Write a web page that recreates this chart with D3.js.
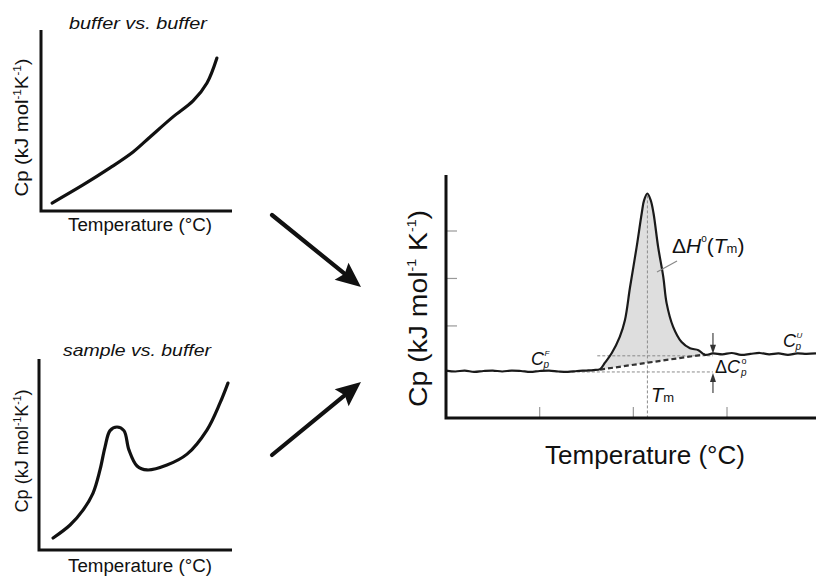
<!DOCTYPE html>
<html><head><meta charset="utf-8">
<script src="https://cdn.jsdelivr.net/npm/d3@7"></script>
<style>
body{margin:0;background:#fff}
svg{display:block}
text{font-family:"Liberation Sans",Arial,Helvetica,sans-serif;fill:#111}
</style>
</head><body>
<svg id="c" width="816" height="579"></svg>
<script>
// ---------- data ----------
// panel 1: buffer vs. buffer (arbitrary units 0-100)
const bufferT  = [5.8, 22.0, 36.1, 48.2, 57.1, 69.1, 79.6, 86.9, 92.1];
const bufferCp = [4.4, 14.4, 23.8, 32.6, 40.9, 52.0, 60.8, 70.7, 84.5];
// panel 2: sample vs. buffer
const sampleT  = [7.3, 16.1, 22.8, 28.0, 31.6, 34.2, 36.8, 40.4, 44.0, 46.6, 50.8, 56.0, 66.3, 76.7, 87.0, 93.8, 97.9];
const sampleCp = [6.3, 13.1, 20.9, 29.8, 41.9, 53.9, 62.5, 64.4, 62.5, 52.4, 44.0, 41.9, 44.5, 50.2, 62.8, 77.0, 87.4];
// main DSC thermogram
const dscT  = [20, 22, 24, 26, 28, 30, 32, 34, 36, 38, 40, 42, 44, 46, 48, 50, 51.5,
               52.9, 53.9, 55.4, 57.1, 58.2, 59.3, 60.7, 61.8, 62.3, 63.0, 63.7, 64.3, 65.3, 66.4, 67.1, 68.5, 70.3, 72.1, 73.9, 75.3,
               77, 79, 81, 83, 85, 87, 89, 91, 93, 95, 97, 99];
const dscCp = [0.06, 0.04, 0.06, 0.03, 0.05, 0.06, 0.04, 0.06, 0.05, 0.03, 0.05, 0.06, 0.04, 0.03, 0.05, 0.06, 0.07,
               0.09, 0.22, 0.43, 0.77, 1.12, 1.82, 2.66, 3.38, 3.65, 3.79, 3.65, 3.38, 2.66, 2.03, 1.48, 0.98, 0.66, 0.53, 0.49, 0.39,
               0.42, 0.40, 0.43, 0.39, 0.41, 0.43, 0.40, 0.42, 0.39, 0.42, 0.41, 0.42];
const xTicks = [40, 60, 80];
const yTicks = [1, 2, 3];
const onsetT = 52.9, endT = 75.3;      // transition limits
const onsetCp = 0.08, endCp = 0.40;     // progress baseline ends
const Tm = 63.0;
const cpF = 0.03, cpU = 0.37;           // folded / unfolded baselines
const dCpX = 77;                        // position of delta Cp arrows

const svg = d3.select("#c");
const ink = "#111";

// ---------- small panels ----------
function smallPanel(T, Cp, xr, yr, title, titleX, titleY, titleLen, ylabY, ylabLen, xlabY) {
  const x = d3.scaleLinear().domain([0, 100]).range(xr);
  const y = d3.scaleLinear().domain([0, 100]).range(yr);
  const g = svg.append("g");
  g.append("path")
    .attr("d", d3.line().x(d => x(d[0])).y(d => y(d[1])).curve(d3.curveCatmullRom.alpha(0.5))(T.map((t, i) => [t, Cp[i]])))
    .attr("fill", "none").attr("stroke", ink).attr("stroke-width", 3.2).attr("stroke-linecap", "round");
  g.append("path")
    .attr("d", `M${x(0)},${y(100)}V${y(0)}H${x(100)}`)
    .attr("fill", "none").attr("stroke", ink).attr("stroke-width", 3);
  g.append("text").attr("x", titleX).attr("y", titleY).attr("font-size", 17).attr("font-style", "italic")
    .attr("textLength", titleLen).attr("lengthAdjust", "spacingAndGlyphs").text(title);
  const yl = g.append("text").attr("transform", `translate(28,${ylabY}) rotate(-90)`)
    .attr("text-anchor", "middle").attr("font-size", 17.5)
    .attr("textLength", ylabLen).attr("lengthAdjust", "spacingAndGlyphs");
  yl.append("tspan").text("Cp (kJ mol");
  yl.append("tspan").attr("font-size", 10).attr("dy", -7).text("-1");
  yl.append("tspan").attr("dy", 7).text("K");
  yl.append("tspan").attr("font-size", 10).attr("dy", -7).text("-1");
  yl.append("tspan").attr("dy", 7).text(")");
  g.append("text").attr("x", 140).attr("y", xlabY).attr("text-anchor", "middle").attr("font-size", 18)
    .attr("textLength", 144).attr("lengthAdjust", "spacingAndGlyphs").text("Temperature (°C)");
}
smallPanel(bufferT, bufferCp, [41, 232], [211, 30], "buffer vs. buffer", 69, 29, 138, 127.5, 138, 231);
smallPanel(sampleT, sampleCp, [39, 232], [550, 359], "sample vs. buffer", 63, 356, 148, 451, 123, 572);

// ---------- big arrows ----------
function bigArrow(x1, y1, x2, y2) {
  const dx = x2 - x1, dy = y2 - y1, L = Math.hypot(dx, dy);
  const ux = dx / L, uy = dy / L, hl = 25, hw = 11;
  const bx = x2 - ux * hl, by = y2 - uy * hl;
  svg.append("line").attr("x1", x1).attr("y1", y1).attr("x2", bx + ux * 3).attr("y2", by + uy * 3)
    .attr("stroke", ink).attr("stroke-width", 4.2).attr("stroke-linecap", "round");
  svg.append("path").attr("d", `M${x2},${y2}L${bx - uy * hw},${by + ux * hw}L${bx + ux * 4},${by + uy * 4}L${bx + uy * hw},${by - ux * hw}Z`)
    .attr("fill", ink);
}
bigArrow(272, 215, 361, 287);
bigArrow(272, 455, 361, 382);

// ---------- main panel ----------
const x = d3.scaleLinear().domain([20, 99]).range([446, 816]);
const y = d3.scaleLinear().domain([-0.94, 4.18]).range([418, 175]);
const g = svg.append("g");
const pts = dscT.map((t, i) => [t, dscCp[i]]);
const base = t => onsetCp + (endCp - onsetCp) * (t - onsetT) / (endT - onsetT);

// ticks (inside)
g.selectAll(".yt").data(yTicks).join("line")
  .attr("x1", x(20)).attr("x2", x(20) + 11).attr("y1", d => y(d)).attr("y2", d => y(d))
  .attr("stroke", "#999").attr("stroke-width", 1.2);
g.selectAll(".xt").data(xTicks).join("line")
  .attr("x1", d => x(d)).attr("x2", d => x(d)).attr("y1", y(-0.94)).attr("y2", y(-0.94) - 11)
  .attr("stroke", "#999").attr("stroke-width", 1.2);

// shaded area
const peak = pts.filter(p => p[0] >= onsetT && p[0] <= endT);
g.append("path")
  .attr("d", d3.area().x(d => x(d[0])).y0(d => y(base(d[0]))).y1(d => y(d[1])).curve(d3.curveCatmullRom.alpha(0.5))(peak))
  .attr("fill", "#dedede");

// thin dashed guides
const guide = (x1, y1, x2, y2) => g.append("line").attr("x1", x1).attr("y1", y1).attr("x2", x2).attr("y2", y2)
  .attr("stroke", "#8a8a8a").attr("stroke-width", 1).attr("stroke-dasharray", "3,2");
guide(x(52.3), y(cpU), x(dCpX), y(cpU));
guide(x(45.8), y(cpF), x(dCpX), y(cpF));
guide(x(Tm), y(3.75), x(Tm), y(-0.94));

// progress baseline (thick dashed)
g.append("line").attr("x1", x(onsetT)).attr("y1", y(onsetCp)).attr("x2", x(endT)).attr("y2", y(endCp))
  .attr("stroke", "#333").attr("stroke-width", 2.2).attr("stroke-dasharray", "5,3");

// thermogram
g.append("path")
  .attr("d", d3.line().x(d => x(d[0])).y(d => y(d[1])).curve(d3.curveCatmullRom.alpha(0.5))(pts))
  .attr("fill", "none").attr("stroke", "#1a1a1a").attr("stroke-width", 2.2).attr("stroke-linejoin", "round");

// axes
g.append("path").attr("d", `M${x(20)},${y(4.18)}V${y(-0.94)}H${x(99)}`)
  .attr("fill", "none").attr("stroke", ink).attr("stroke-width", 3);

// delta Cp arrows
function smallArrow(xp, yFrom, yTip) {
  const dir = Math.sign(yTip - yFrom);
  g.append("line").attr("x1", xp).attr("x2", xp).attr("y1", yFrom).attr("y2", yTip - dir * 6)
    .attr("stroke", "#444").attr("stroke-width", 1.2);
  g.append("path").attr("d", `M${xp},${yTip}L${xp - 3},${yTip - dir * 9}L${xp + 3},${yTip - dir * 9}Z`).attr("fill", "#333");
}
smallArrow(x(dCpX), 333, y(cpU) - 2);
smallArrow(x(dCpX), 393, y(cpF) + 1);

// leader line for dH
g.append("line").attr("x1", 657).attr("y1", 272).attr("x2", 677).attr("y2", 261).attr("stroke", "#888").attr("stroke-width", 1.2);

// labels
const dh = g.append("text").attr("x", 672).attr("y", 253).attr("font-size", 21);
dh.append("tspan").text("Δ");
dh.append("tspan").attr("font-style", "italic").text("H");
dh.append("tspan").attr("font-size", 10).attr("dy", -11).text("o");
dh.append("tspan").attr("dy", 11).text("(");
dh.append("tspan").attr("font-style", "italic").text("T");
dh.append("tspan").attr("font-size", 13).text("m");
dh.append("tspan").text(")");

function cpLabel(x0, yb, sup) {
  g.append("text").attr("x", x0).attr("y", yb).attr("font-size", 18).attr("font-style", "italic").text("C");
  g.append("text").attr("x", x0 + 12.5).attr("y", yb + 3).attr("font-size", 10).attr("font-style", "italic").text("p");
  g.append("text").attr("x", x0 + 13.5).attr("y", yb - 9).attr("font-size", 8).attr("font-style", "italic").text(sup);
}
cpLabel(531, 365, "F");
cpLabel(783, 347, "U");

const dc = g.append("text").attr("x", 715).attr("y", 373).attr("font-size", 18);
dc.append("tspan").text("Δ");
dc.append("tspan").attr("font-style", "italic").text("C");
g.append("text").attr("x", 741).attr("y", 376).attr("font-size", 10).attr("font-style", "italic").text("p");
g.append("text").attr("x", 741.5).attr("y", 364).attr("font-size", 9).text("o");

const tmL = g.append("text").attr("x", 651).attr("y", 402).attr("font-size", 20);
tmL.append("tspan").attr("font-style", "italic").text("T");
tmL.append("tspan").attr("font-size", 13).text("m");

// axis titles
const yl = svg.append("text").attr("transform", "translate(427,308.5) rotate(-90)")
  .attr("text-anchor", "middle").attr("font-size", 26).attr("textLength", 197).attr("lengthAdjust", "spacingAndGlyphs");
yl.append("tspan").text("Cp (kJ mol");
yl.append("tspan").attr("font-size", 13).attr("dy", -11).text("-1");
yl.append("tspan").attr("dy", 11).text(" K");
yl.append("tspan").attr("font-size", 13).attr("dy", -11).text("-1");
yl.append("tspan").attr("dy", 11).text(")");

svg.append("text").attr("x", 645).attr("y", 464).attr("text-anchor", "middle").attr("font-size", 25)
  .attr("textLength", 200).attr("lengthAdjust", "spacingAndGlyphs").text("Temperature (°C)");
</script>
</body></html>
